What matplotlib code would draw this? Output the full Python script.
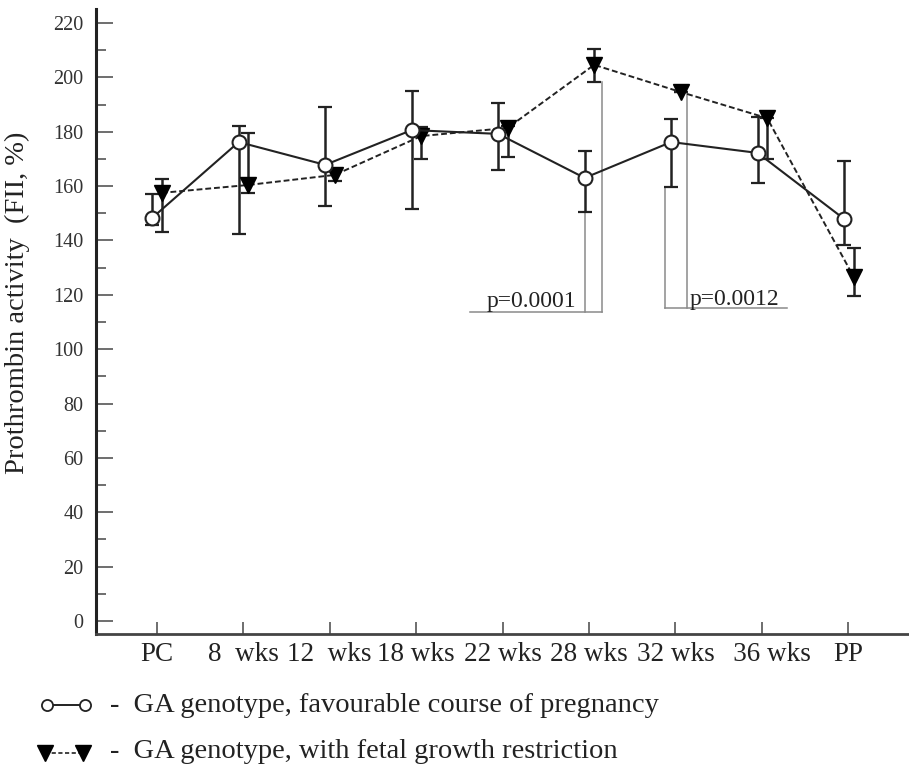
import matplotlib
matplotlib.use("Agg")
import matplotlib.pyplot as plt
from matplotlib.lines import Line2D
import numpy as np

plt.rcParams['font.family'] = ['Liberation Serif', 'DejaVu Serif']

categories = ["PC", "8  wks", "12  wks", "18 wks", "22 wks", "28 wks", "32 wks", "   36 wks", "PP"]

# GA genotype, favourable course of pregnancy
fav_mean = [148.3, 176.2, 167.8, 180.6, 179.2, 163.0, 176.2, 172.2, 147.9]
fav_upper = [157.0, 182.1, 189.1, 195.0, 190.6, 172.9, 184.7, 185.4, 169.2]
fav_lower = [145.7, 142.4, 152.7, 151.6, 165.9, 150.5, 159.7, 161.0, 138.3]

# GA genotype, with fetal growth restriction
fgr_mean = [157.5, 160.4, 164.1, 178.4, 181.4, 204.6, 194.6, 185.0, 126.6]
fgr_upper = [162.6, 179.5, 166.0, 181.7, 182.0, 210.4, 194.6, 185.0, 137.3]
fgr_lower = [143.1, 157.5, 162.0, 170.0, 170.7, 198.3, 194.6, 170.0, 119.6]

yticks = [0, 20, 40, 60, 80, 100, 120, 140, 160, 180, 200, 220]

# significance annotations: (h_x0, h_x1, h_y, v1_x, v1_top, v2_x, v2_top, text, text_x, text_y)
p_labels = ["p=0.0001", "p=0.0012"]

fig = plt.figure(figsize=(9.09, 7.66), dpi=100)
ax = fig.add_axes([96/909, 132/766, 1 - 96/909, 624.6/766])

x = np.arange(len(categories))
xf = x - 0.05
xt = x + 0.06

fm = np.array(fav_mean); tm = np.array(fgr_mean)
ferr = [fm - np.array(fav_lower), np.array(fav_upper) - fm]
terr = [tm - np.array(fgr_lower), np.array(fgr_upper) - tm]

ax.errorbar(xf, fm, yerr=ferr, fmt='none', ecolor='#222222', elinewidth=1.8,
            capsize=5, capthick=1.6, zorder=2)
ax.errorbar(xt, tm, yerr=terr, fmt='none', ecolor='#222222', elinewidth=1.8,
            capsize=5, capthick=1.6, zorder=2)

ax.plot(xt, tm, linestyle=(0, (3, 1.5)), color='#222222', lw=1.4, zorder=3,
        marker='v', markersize=12, markerfacecolor='black', markeredgecolor='black')
ax.plot(xf, fm, linestyle='-', color='#222222', lw=1.5, zorder=4,
        marker='o', markersize=10, markerfacecolor='white', markeredgecolor='#222222',
        markeredgewidth=1.5)

# significance brackets
gray = '#8a8a8a'
ax.plot([3.62, 5.15], [113.7, 113.7], color=gray, lw=1.1, zorder=1)
ax.plot([4.955, 4.955], [150.5, 113.7], color=gray, lw=1.1, zorder=1)
ax.plot([5.15, 5.15], [198.3, 113.7], color=gray, lw=1.1, zorder=1)
ax.text(3.82, 115.5, p_labels[0], fontsize=17, ha='left', va='baseline', color='#222222')

ax.plot([5.88, 7.29], [115.2, 115.2], color=gray, lw=1.1, zorder=1)
ax.plot([5.88, 5.88], [159.7, 115.2], color=gray, lw=1.1, zorder=1)
ax.plot([6.13, 6.13], [194.6, 115.2], color=gray, lw=1.1, zorder=1)
ax.text(6.16, 116.3, p_labels[1], fontsize=17, ha='left', va='baseline', color='#222222')

ax.set_xlim(-0.7, 8.70)
ax.set_ylim(-4.8, 225)
ax.set_yticks(yticks)
ax.set_yticks(np.arange(10, 220, 20), minor=True)
ax.set_xticks(x)
ax.set_xticklabels(categories)

for s in ['top', 'right']:
    ax.spines[s].set_visible(False)
ax.spines['left'].set_linewidth(2.2)
ax.spines['bottom'].set_linewidth(2.0)
ax.spines['left'].set_color('#222222')
ax.spines['bottom'].set_color('#444444')

ax.tick_params(axis='y', which='major', direction='in', length=12, width=1.2,
               color='#555555', labelsize=14.5, labelcolor='#333333', pad=9)
ax.tick_params(axis='y', which='minor', direction='in', length=7, width=1.2, color='#555555')
ax.tick_params(axis='x', which='major', direction='in', length=9, width=1.2,
               color='#555555', labelsize=19.5, labelcolor='#222222', pad=6)

ax.set_ylabel("Prothrombin activity  (FII, %)", fontsize=20.5, color='#222222')
ax.yaxis.set_label_coords(-0.081, 0.531)

# legend drawn below axes
def fy(py):
    return 1 - py / 766
def fx(px):
    return px / 909

fig.add_artist(Line2D([fx(47), fx(85)], [fy(705), fy(705)], transform=fig.transFigure,
                      color='#222222', lw=1.4, marker='o', markersize=8,
                      markerfacecolor='white', markeredgecolor='#222222', markeredgewidth=1.3))
fig.add_artist(Line2D([fx(45), fx(83)], [fy(753), fy(753)], transform=fig.transFigure,
                      color='#222222', lw=1.2, linestyle=(0, (2.5, 1.5)), marker='v', markersize=11,
                      markerfacecolor='black', markeredgecolor='black'))
fig.text(fx(110), fy(705), "-  GA genotype, favourable course of pregnancy", fontsize=20.5,
         ha='left', va='center', color='#222222')
fig.text(fx(110), fy(752), "-  GA genotype, with fetal growth restriction", fontsize=20.5,
         ha='left', va='center', color='#222222')

fig.savefig("out.png", dpi=100)
